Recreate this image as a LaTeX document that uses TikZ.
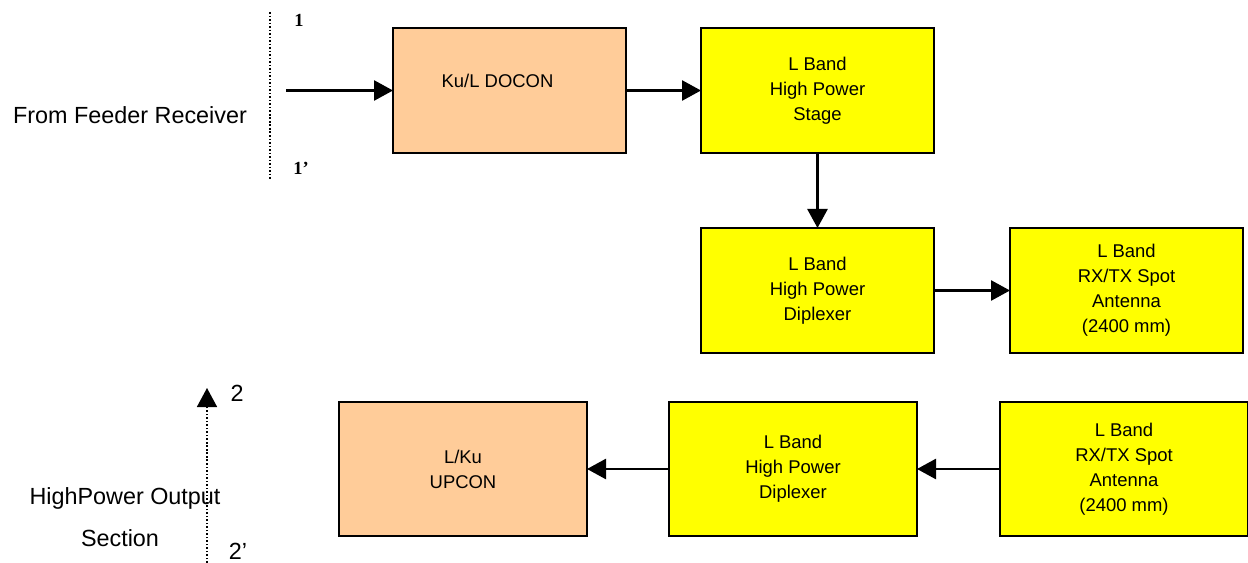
\documentclass[tikz,border=0pt]{standalone}
\usepackage{fontspec}
\setmainfont{Liberation Sans}
\newfontfamily\portfont{Liberation Serif}
\usetikzlibrary{arrows.meta, positioning}
\definecolor{mypeach}{RGB}{255,204,153}
\definecolor{myyellow}{RGB}{255,255,0}
\tikzset{
  block/.style={rectangle, draw=black, fill=myyellow, align=center,
    minimum width=4.66cm, minimum height=2.5cm, outer sep=0pt,
    font=\fontsize{10.5}{14.2}\selectfont, line width=1.3pt},
  lowblock/.style={block, minimum width=4.96cm, minimum height=2.68cm},
  arrow/.style={-{Triangle[length=0.38cm, width=0.4cm]}, line width=1.5pt},
  divider/.style={dotted, line width=0.9pt, dash pattern=on 0.9pt off 1.1pt},
  portlabel/.style={font=\portfont\bfseries\fontsize{10.5}{12}\selectfont},
  sidelabel/.style={font=\fontsize{13.3}{15}\selectfont, align=center}
}

\begin{document}
\begin{tikzpicture}
  \useasboundingbox (0,0) rectangle (24.96,-11.26);
  % Upper chain
  \node[block, fill=mypeach] (docon) at (10.19,-1.81)
    {\raisebox{0.4cm}{Ku/L DOCON\hspace{0.48cm}}};
  \node[block, right=1.5cm of docon] (stage) {L Band\\High Power\\Stage};
  \node[block, below=1.5cm of stage] (diplexa) {L Band\\High Power\\Diplexer};
  \node[block, right=1.52cm of diplexa] (antena) {L Band\\RX/TX Spot\\Antenna\\(2400 mm)};
  % Lower chain
  \node[lowblock, fill=mypeach] (upcon) at (9.26,-9.38) {L/Ku\\UPCON};
  \node[lowblock, right=1.64cm of upcon] (diplexb) {L Band\\High Power\\Diplexer};
  \node[lowblock, right=1.66cm of diplexb] (antenb)
    {\raisebox{0.28cm}{\begin{tabular}{@{}c@{}}L Band\\RX/TX Spot\\Antenna\\(2400 mm)\end{tabular}}};

  % Section 1 input
  \coordinate (in) at (5.72,-1.81);
  \coordinate (cuttop) at (5.40,-0.24);
  \coordinate (cutbot) at (5.40,-3.60);
  \draw[divider] (cuttop) -- (cutbot);
  \node[portlabel] (p1) at (5.98,-0.40) {1};
  \node[portlabel] (p1b) at (6.02,-3.36) {1’};
  \node[sidelabel] (feeder) at (2.6,-2.30) {From Feeder Receiver};

  % Section 2 output
  \coordinate (outbot) at (4.14,-11.26);
  \coordinate (outtop) at (4.14,-7.76);
  \draw[divider, -{Triangle[length=0.38cm, width=0.4cm]}] (outbot) -- (outtop);
  \node[sidelabel] (p2) at (4.74,-7.86) {2};
  \node[sidelabel] (p2b) at (4.76,-11.02) {2’};
  \node[sidelabel] (output) at (2.5,-9.96) {HighPower Output};
  \node[sidelabel] (section) at (2.4,-10.76) {Section};

  \draw[arrow] (in) -- (docon);
  \draw[arrow] (docon) -- (stage);
  \draw[arrow] (stage) -- (diplexa);
  \draw[arrow] (diplexa) -- (antena);
  \draw[arrow] (antenb) -- (diplexb);
  \draw[arrow] (diplexb) -- (upcon);
\end{tikzpicture}
\end{document}
